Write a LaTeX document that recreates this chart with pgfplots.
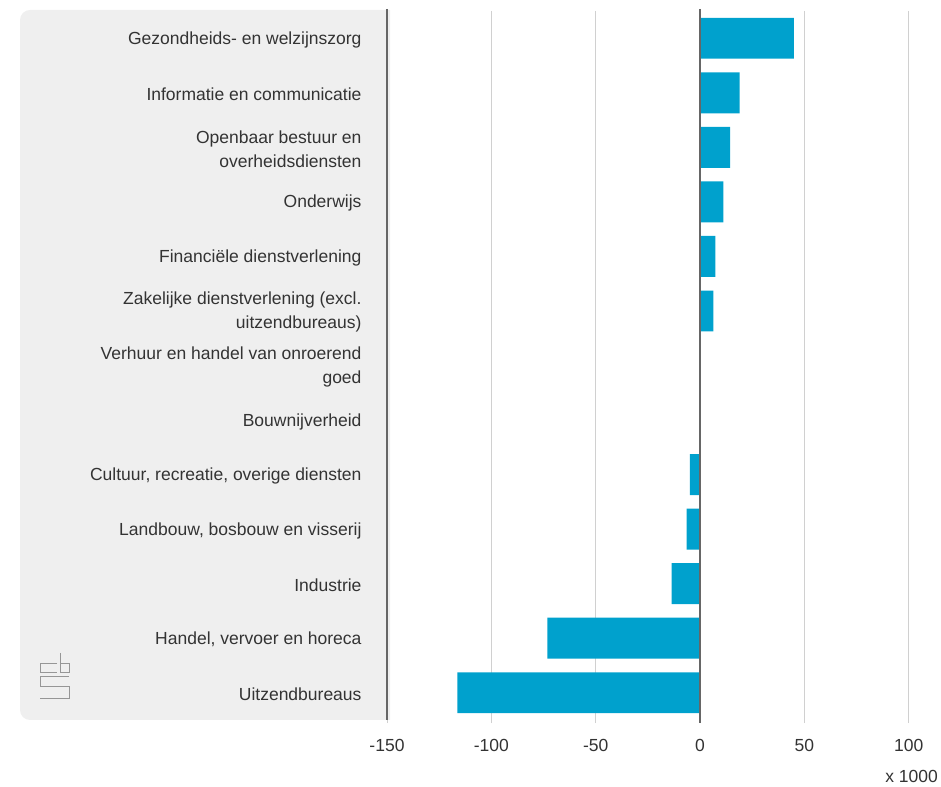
\documentclass[border=0pt]{standalone}
\usepackage{fontspec}
\setmainfont{Liberation Sans}
\usepackage{pgfplots}
\pgfplotsset{compat=1.18}

\definecolor{barblue}{RGB}{0,161,205}
\definecolor{panel}{RGB}{239,239,239}
\definecolor{txt}{RGB}{51,51,51}
\definecolor{axisc}{RGB}{102,102,102}
\definecolor{gridc}{RGB}{208,208,208}
\definecolor{logoc}{RGB}{150,150,150}

\begin{document}
\begin{tikzpicture}[x=1pt,y=1pt]
\useasboundingbox (0,0) rectangle (941,786);

% grey panel behind the category labels
\fill[panel] (390,776) [rounded corners=10pt] -- (20,776) -- (20,66) [sharp corners] -- (390,66) -- cycle;

% cbs logo
\begin{scope}[draw=logoc, line width=0.9pt, double=panel, double distance=1.8pt]
  \draw (57,123) -- (40,123) -- (40,114) -- (57,114);
  \draw (60,133) -- (60,114) -- (69,114) -- (69,123) -- (60,123);
  \draw (69,110) -- (40,110) -- (40,99.5) -- (69,99.5) -- (69,88) -- (40,88);
\end{scope}

\begin{axis}[
  at={(387pt,66pt)}, anchor=south west,
  scale only axis, width=521.7pt, height=709pt,
  xmin=-150, xmax=100, ymin=-0.5, ymax=12.5, y dir=reverse,
  xbar, bar width=0.75, bar shift=0pt,
  axis line style={draw=none},
  clip=false,
  xtick={-150,-100,-50,0,50,100},
  ytick={0,...,12},
  xtick pos=lower, tick align=outside,
  major tick length=3pt,
  xtick style={gridc, line width=1pt},
  ytick style={draw=none},
  xmajorgrids, grid style={gridc, line width=1pt},
  tick label style={font=\fontsize{17.5}{24}\selectfont, text=txt},
  /pgf/number format/assume math mode=true,
  xticklabel style={yshift=-13pt},
  yticklabel style={align=right, xshift=-19pt, yshift=-1.5pt},
  yticklabels={
    {Gezondheids- en welzijnszorg},
    {Informatie en communicatie},
    {Openbaar bestuur en\\overheidsdiensten},
    {Onderwijs},
    {Financiële dienstverlening},
    {Zakelijke dienstverlening (excl.\\uitzendbureaus)},
    {Verhuur en handel van onroerend\\goed},
    {Bouwnijverheid},
    {Cultuur, recreatie, overige diensten},
    {Landbouw, bosbouw en visserij},
    {Industrie},
    {Handel, vervoer en horeca},
    {Uitzendbureaus}
  },
]
\addplot[fill=barblue, draw=none] coordinates {
  (45,0) (19,1) (14.4,2) (11.2,3) (7.3,4) (6.4,5) (0,6) (0,7)
  (-4.9,8) (-6.4,9) (-13.6,10) (-73.2,11) (-116.3,12)
};
\draw[axisc, line width=2pt] (axis cs:-150,-0.54) -- (axis cs:-150,12.5);
\draw[axisc, line width=2.2pt] (axis cs:0,-0.54) -- (axis cs:0,12.55);
\end{axis}

\node[anchor=base east, inner sep=0, text=txt, font=\fontsize{17.5}{24}\selectfont] at (938,3) {x 1000};
\end{tikzpicture}
\end{document}
